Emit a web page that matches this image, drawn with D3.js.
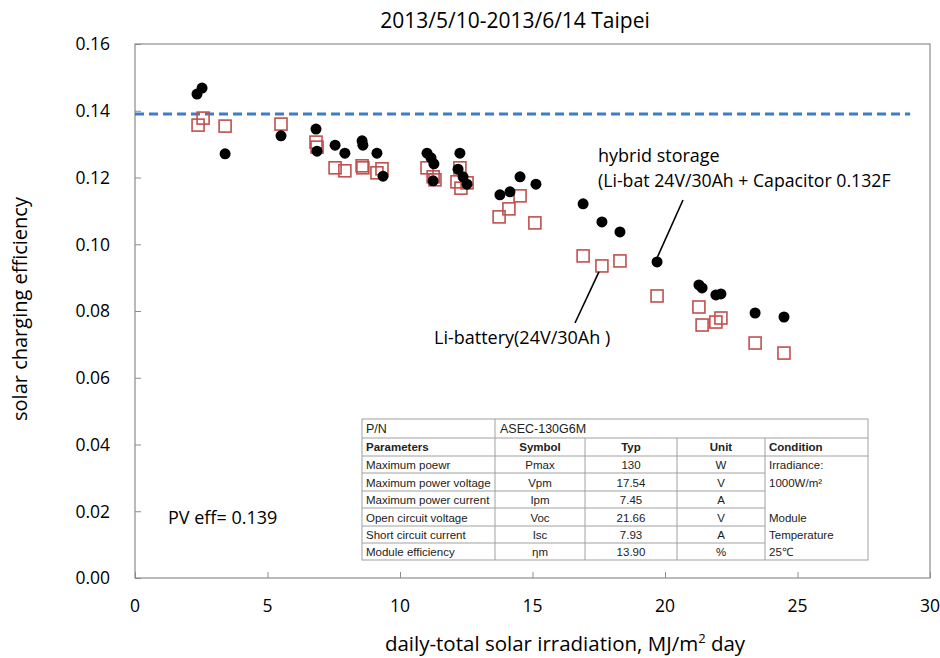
<!DOCTYPE html>
<html><head><meta charset="utf-8">
<script src="https://cdn.jsdelivr.net/npm/d3@7"></script>
<style>
body{margin:0;background:#fff;}
svg{display:block;}
</style></head>
<body>
<svg id="c" width="940" height="658"></svg>
<script>
const title = "2013/5/10-2013/6/14 Taipei";
const xTicks = [0,5,10,15,20,25,30];
const yTicks = [0,0.02,0.04,0.06,0.08,0.10,0.12,0.14,0.16];
const pvEff = 0.139;

// hybrid storage (black dots)
const hybridX = [2.34,2.53,3.40,5.51,6.83,6.87,7.55,7.92,8.57,8.60,9.13,9.36,11.02,11.17,11.28,11.25,12.26,12.19,12.38,12.53,13.77,14.15,14.53,15.13,16.91,17.62,18.30,19.70,21.28,21.40,21.92,22.11,23.40,24.49];
const hybridY = [0.1450,0.1468,0.1271,0.1325,0.1345,0.1279,0.1297,0.1273,0.1310,0.1297,0.1273,0.1204,0.1273,0.1259,0.1241,0.1190,0.1273,0.1225,0.1202,0.1180,0.1148,0.1157,0.1202,0.1180,0.1121,0.1067,0.1037,0.0947,0.0878,0.0869,0.0848,0.0851,0.0794,0.0782];
// Li-battery (red squares)
const liX = [2.38,2.57,3.40,5.51,6.83,6.87,7.55,7.92,8.57,8.60,9.13,9.32,11.02,11.25,11.32,12.26,12.15,12.30,12.53,13.74,14.11,14.53,15.09,16.91,17.62,18.30,19.70,21.28,21.40,21.92,22.11,23.40,24.49];
const liY = [0.1357,0.1378,0.1354,0.1360,0.1306,0.1291,0.1229,0.1220,0.1235,0.1229,0.1214,0.1226,0.1229,0.1202,0.1193,0.1229,0.1187,0.1168,0.1184,0.1082,0.1106,0.1145,0.1064,0.0965,0.0935,0.0950,0.0845,0.0812,0.0758,0.0767,0.0779,0.0704,0.0674];

const tableHead = ["Parameters","Symbol","Typ","Unit","Condition"];
const tableParams = ["Maximum poewr","Maximum power voltage","Maximum power current","Open circuit voltage","Short circuit current","Module efficiency"];
const tableSymbols = ["Pmax","Vpm","Ipm","Voc","Isc","ηm"];
const tableTyp = ["130","17.54","7.45","21.66","7.93","13.90"];
const tableUnit = ["W","V","A","V","A","%"];
const tableCond = ["Irradiance:","1000W/m²","","Module","Temperature","25℃"];

const svg = d3.select("#c");
const font = "'Open Sans', sans-serif";
const L=135, R=930, T=44, B=578;
const x = d3.scaleLinear().domain([0,30]).range([L,R]);
const y = d3.scaleLinear().domain([0,0.16]).range([B,T]);

// frame
svg.append("rect").attr("x",L).attr("y",T).attr("width",R-L).attr("height",B-T)
  .attr("fill","none").attr("stroke","#8c8c8c").attr("stroke-width",1.2);

const yAxis = svg.append("g").attr("transform",`translate(${L},0)`)
  .call(d3.axisRight(y).tickValues(yTicks).tickSize(6).tickFormat(""));
yAxis.select(".domain").remove();
yAxis.selectAll("line").attr("stroke","#8c8c8c");
const xAxis = svg.append("g").attr("transform",`translate(0,${B})`)
  .call(d3.axisTop(x).tickValues(xTicks).tickSize(6).tickFormat(""));
xAxis.select(".domain").remove();
xAxis.selectAll("line").attr("stroke","#8c8c8c");

svg.append("g").selectAll("text").data(yTicks).join("text")
  .attr("x",L-25).attr("y",d=>y(d)).attr("dy","0.36em").attr("text-anchor","end")
  .attr("font-family",font).attr("font-size",17.5).attr("fill","#000")
  .text(d=>d3.format(".2f")(d));
svg.append("g").selectAll("text").data(xTicks).join("text")
  .attr("x",d=>x(d)).attr("y",B+34).attr("text-anchor","middle")
  .attr("font-family",font).attr("font-size",17.5).attr("fill","#000")
  .text(d=>d);

svg.append("text").attr("x",515).attr("y",28).attr("text-anchor","middle")
  .attr("font-family",font).attr("font-size",21).text(title);

svg.append("text").attr("transform","translate(27,309) rotate(-90)").attr("text-anchor","middle")
  .attr("font-family",font).attr("font-size",20).text("solar charging efficiency");

const xl = svg.append("text").attr("x",565).attr("y",651).attr("text-anchor","middle")
  .attr("font-family",font).attr("font-size",20.5);
xl.append("tspan").text("daily-total solar irradiation, MJ/m");
xl.append("tspan").attr("font-size",13).attr("dy",-8).text("2");
xl.append("tspan").attr("dy",8).text(" day");

// PV eff line
svg.append("line").attr("x1",x(0)).attr("x2",x(29.25)).attr("y1",y(pvEff)).attr("y2",y(pvEff))
  .attr("stroke","#3d7cc9").attr("stroke-width",3).attr("stroke-dasharray","9,5");

// Li-battery squares
const liData = liX.map((v,i)=>({x:v,y:liY[i]}));
svg.append("g").selectAll("rect").data(liData).join("rect")
  .attr("x",d=>x(d.x)-6).attr("y",d=>y(d.y)-6).attr("width",12).attr("height",12)
  .attr("fill","none").attr("stroke","#c0504d").attr("stroke-width",1.6);
// hybrid dots
const hyData = hybridX.map((v,i)=>({x:v,y:hybridY[i]}));
svg.append("g").selectAll("circle").data(hyData).join("circle")
  .attr("cx",d=>x(d.x)).attr("cy",d=>y(d.y)).attr("r",5.5).attr("fill","#000");

// annotations
const ann = svg.append("g").attr("font-family",font).attr("font-size",18).attr("fill","#000");
ann.append("text").attr("x",598).attr("y",162).text("hybrid storage");
ann.append("text").attr("x",598).attr("y",187).attr("font-size",17.7).text("(Li-bat 24V/30Ah + Capacitor 0.132F");
ann.append("text").attr("x",434).attr("y",344).text("Li-battery(24V/30Ah )");
ann.append("text").attr("x",168).attr("y",524).text("PV eff= 0.139");
svg.append("line").attr("x1",683).attr("y1",200).attr("x2",x(19.70)).attr("y2",y(0.0947)-4)
  .attr("stroke","#000").attr("stroke-width",1.6);
svg.append("line").attr("x1",575).attr("y1",323).attr("x2",x(17.62)-3).attr("y2",y(0.0935)+6)
  .attr("stroke","#000").attr("stroke-width",1.6);

// table
const tg = svg.append("g").attr("font-family","'Liberation Sans', Arial, sans-serif").attr("font-size",11.5).attr("fill","#222");
const tx0=362, tx1=868, ty0=419;
const colX = [362,495,585,677,765,868];
const rowY = [419,438,456,473,491,508,526,543,560];
tg.append("rect").attr("x",tx0-4).attr("y",ty0-4).attr("width",tx1-tx0+8).attr("height",560-ty0+8).attr("fill","#fff");
const ln = (x1,y1,x2,y2)=>tg.append("line").attr("x1",x1).attr("y1",y1).attr("x2",x2).attr("y2",y2).attr("stroke","#a0a0a0").attr("stroke-width",1);
tg.append("rect").attr("x",tx0).attr("y",ty0).attr("width",tx1-tx0).attr("height",560-ty0).attr("fill","none").attr("stroke","#a0a0a0");
ln(tx0,rowY[1],tx1,rowY[1]);
ln(tx0,rowY[2],tx1,rowY[2]);
for(let i=3;i<8;i++) ln(tx0,rowY[i],colX[4],rowY[i]);
ln(colX[1],rowY[0],colX[1],rowY[8]);
for(let j=2;j<5;j++) ln(colX[j],rowY[1],colX[j],rowY[8]);
tg.append("text").attr("x",tx0+4).attr("y",rowY[1]-5).attr("font-size",12.5).text("P/N");
tg.append("text").attr("x",colX[1]+5).attr("y",rowY[1]-5).attr("font-size",12.5).text("ASEC-130G6M");
tableHead.forEach((h,j)=>{
  const t = tg.append("text").attr("y",rowY[2]-5).attr("font-weight","bold").text(h);
  if(j===0) t.attr("x",colX[0]+4);
  else if(j===4) t.attr("x",colX[4]+4);
  else t.attr("x",(colX[j]+colX[j+1])/2).attr("text-anchor","middle");
});
tableParams.forEach((p,i)=>{
  const yy = rowY[i+3]-4.5;
  tg.append("text").attr("x",colX[0]+4).attr("y",yy).text(p);
  tg.append("text").attr("x",(colX[1]+colX[2])/2).attr("y",yy).attr("text-anchor","middle").text(tableSymbols[i]);
  tg.append("text").attr("x",(colX[2]+colX[3])/2).attr("y",yy).attr("text-anchor","middle").text(tableTyp[i]);
  tg.append("text").attr("x",(colX[3]+colX[4])/2).attr("y",yy).attr("text-anchor","middle").text(tableUnit[i]);
  tg.append("text").attr("x",colX[4]+4).attr("y",yy).text(tableCond[i]);
});
</script>
</body></html>
